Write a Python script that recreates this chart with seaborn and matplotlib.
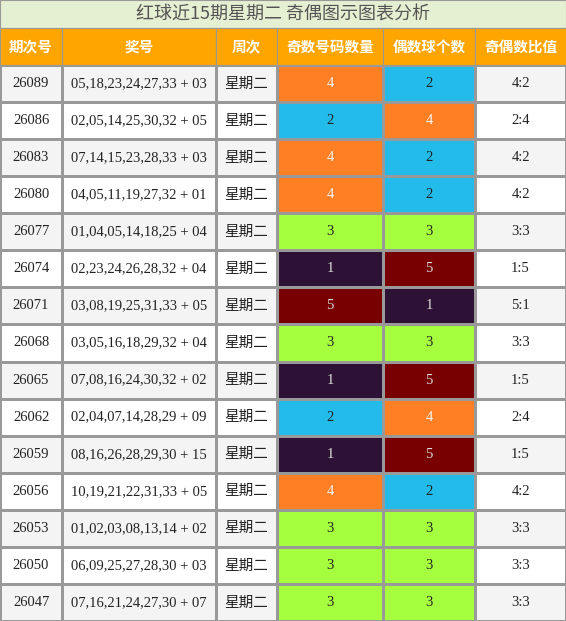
import matplotlib
matplotlib.use("Agg")
import matplotlib.pyplot as plt
import seaborn as sns
import numpy as np
from matplotlib.colors import ListedColormap

sns.set_theme(style="white")
plt.rcParams['font.family'] = ['Liberation Serif', 'Noto Sans CJK SC']

title = "红球近15期星期二 奇偶图示图表分析"
headers = ["期次号", "奖号", "周次", "奇数号码数量", "偶数球个数", "奇偶数比值"]
periods = ["26089","26086","26083","26080","26077","26074","26071","26068","26065","26062","26059","26056","26053","26050","26047"]
numbers = ["05,18,23,24,27,33 + 03","02,05,14,25,30,32 + 05","07,14,15,23,28,33 + 03","04,05,11,19,27,32 + 01",
           "01,04,05,14,18,25 + 04","02,23,24,26,28,32 + 04","03,08,19,25,31,33 + 05","03,05,16,18,29,32 + 04",
           "07,08,16,24,30,32 + 02","02,04,07,14,28,29 + 09","08,16,26,28,29,30 + 15","10,19,21,22,31,33 + 05",
           "01,02,03,08,13,14 + 02","06,09,25,27,28,30 + 03","07,16,21,24,27,30 + 07"]
weekday = "星期二"
odd = [4,2,4,4,3,1,5,3,1,2,1,4,3,3,3]
even = [6 - o for o in odd]

col_edges = [0, 62, 216, 277, 383, 475, 566]
W, H = 566, 621
title_h, head_bot = 28, 65
n = len(periods)
row_h = (H - head_bot) / n

# colour per count
cnt_color = {1: "#2e1236", 2: "#22bbea", 3: "#a6ff3e", 4: "#ff7f24", 5: "#780000"}
cnt_text = {1: "#dddddd", 2: "#222222", 3: "#222222", 4: "#f4f4f4", 5: "#dddddd"}

# code matrix: 0 = white, 1 = light grey, 2..6 = counts 1..5
codes = np.zeros((n, 6), dtype=int)
for i in range(n):
    codes[i, :] = 1 if i % 2 == 0 else 0
    codes[i, 3] = odd[i] + 1
    codes[i, 4] = even[i] + 1
cmap = ListedColormap(["#ffffff", "#f4f4f4"] + [cnt_color[k] for k in range(1, 6)])

fig = plt.figure(figsize=(5.66, 6.21), dpi=100)
ax = fig.add_axes([0, 0, 1, 1])
ax.set_xlim(0, W)
ax.set_ylim(H, 0)
ax.axis("off")

yedges = head_bot + row_h * np.arange(n + 1)
ax.pcolormesh(col_edges, yedges, codes, cmap=cmap, vmin=-0.5, vmax=6.5,
              edgecolor="#999999", linewidth=0.8)

# title row
ax.add_patch(plt.Rectangle((0, 0), W, title_h, facecolor="#e5efd2", edgecolor="#999999", lw=0.8))
ax.text(W / 2, title_h / 2 + 1, title, ha="center", va="center", fontsize=13, color="#555555",
        family=['Noto Sans CJK SC', 'DejaVu Sans'])
# header row
for j, h in enumerate(headers):
    x0, x1 = col_edges[j], col_edges[j + 1]
    ax.add_patch(plt.Rectangle((x0, title_h), x1 - x0, head_bot - title_h, facecolor="#ffa500",
                               edgecolor="#999999", lw=0.8))
    ax.text((x0 + x1) / 2, (title_h + head_bot) / 2, h, ha="center", va="center", fontsize=10.5,
            color="white", fontweight="bold", family=['Noto Sans CJK SC', 'DejaVu Sans'])

for i in range(n):
    yc = head_bot + row_h * (i + 0.5)
    cx = [(col_edges[j] + col_edges[j + 1]) / 2 for j in range(6)]
    ax.text(cx[0], yc, periods[i], ha="center", va="center", fontsize=10.5, color="#222222")
    ax.text(cx[1], yc, numbers[i], ha="center", va="center", fontsize=10.5, color="#222222")
    ax.text(cx[2], yc, weekday, ha="center", va="center", fontsize=10.5, color="#222222",
            family=['Noto Sans CJK SC', 'DejaVu Sans'])
    ax.text(cx[3], yc, str(odd[i]), ha="center", va="center", fontsize=10.5, color=cnt_text[odd[i]])
    ax.text(cx[4], yc, str(even[i]), ha="center", va="center", fontsize=10.5, color=cnt_text[even[i]])
    ax.text(cx[5], yc, f"{odd[i]}:{even[i]}", ha="center", va="center", fontsize=10.5, color="#222222")

fig.savefig("out.png", dpi=100)
